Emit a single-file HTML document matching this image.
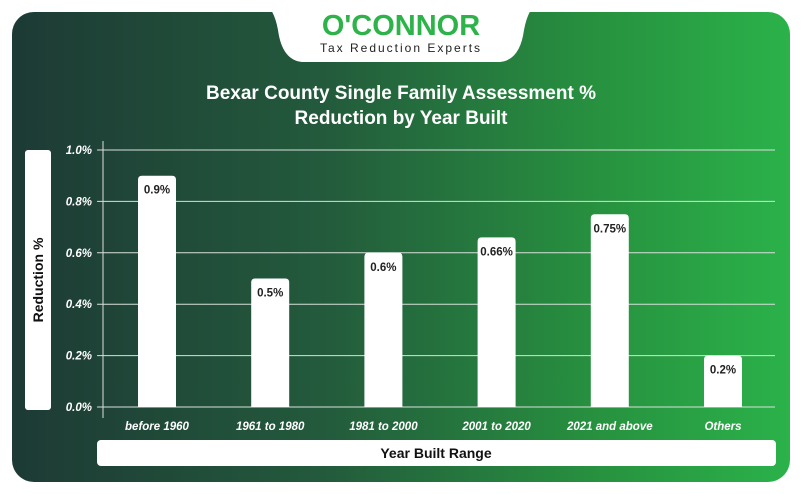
<!DOCTYPE html>
<html><head><meta charset="utf-8"><style>
body{margin:0;width:802px;height:494px;background:#fff;overflow:hidden;font-family:"Liberation Sans",sans-serif}
#card{position:absolute;left:12px;top:12px;width:778px;height:470px;border-radius:22px;background:linear-gradient(90deg,#1d3a35 0%,#235a3c 40%,#27913f 75%,#2bb24a 100%)}
</style></head><body>
<div id="card"></div>
<svg width="802" height="494" style="position:absolute;left:0;top:0">
<path d="M262 0 L540 0 Q528 8 524 30 Q520 60 500 62 L302 62 Q282 60 278 30 Q274 8 262 0Z" fill="#fff"/>
<text x="401" y="35" text-anchor="middle" font-size="29" font-weight="bold" fill="#2db34a">O'CONNOR</text>
<text x="401" y="52" text-anchor="middle" font-size="12" letter-spacing="2" fill="#222">Tax Reduction Experts</text>
<text x="401" y="99" text-anchor="middle" font-size="19" font-weight="bold" fill="#fff">Bexar County Single Family Assessment %</text>
<text x="401" y="124" text-anchor="middle" font-size="19" font-weight="bold" fill="#fff">Reduction by Year Built</text>
<rect x="25" y="150" width="26" height="260" rx="3" fill="#fff"/>
<text transform="translate(43,280) rotate(-90)" text-anchor="middle" font-size="14" font-weight="bold" fill="#111">Reduction %</text>
<rect x="97" y="440" width="679" height="26" rx="4" fill="#fff"/>
<text x="436" y="458" text-anchor="middle" font-size="14" font-weight="bold" fill="#111">Year Built Range</text>
<line x1="103" y1="141" x2="103" y2="418" stroke="#ddd" stroke-width="1"/>
<g id="grid"></g><g id="bars"></g>
</svg>
<script>
const categories=["before 1960","1961 to 1980","1981 to 2000","2001 to 2020","2021 and above","Others"];
const values=[0.9,0.5,0.6,0.66,0.75,0.2];
const valueLabels=["0.9%","0.5%","0.6%","0.66%","0.75%","0.2%"];
const ticks=[0,0.2,0.4,0.6,0.8,1.0];
const tickLabels=["0.0%","0.2%","0.4%","0.6%","0.8%","1.0%"];
const NS="http://www.w3.org/2000/svg";
const y=v=>407-v*257;
const x=i=>157+i*113.2;
const g=document.getElementById('grid'),b=document.getElementById('bars');
function mk(t,a,p){const e=document.createElementNS(NS,t);for(const k in a)e.setAttribute(k,a[k]);p.appendChild(e);return e;}
ticks.forEach((t,i)=>{
 const l=mk('line',{x1:97,x2:775,y1:y(t),y2:y(t),stroke:'#d8e0da','stroke-width':1},g);
 
 
 const tx=mk('text',{x:92,y:y(t)+4,'text-anchor':'end','font-size':11.5,'font-weight':'bold','font-style':'italic',fill:'#fff'},g);
 tx.textContent=tickLabels[i];
 
 
});
values.forEach((v,i)=>{
 const r=mk('path',{d:`M${x(i)-19} ${y(0)} V${y(v)+4} Q${x(i)-19} ${y(v)} ${x(i)-15} ${y(v)} H${x(i)+15} Q${x(i)+19} ${y(v)} ${x(i)+19} ${y(v)+4} V${y(0)}Z`,fill:'#fff'},b);
 
 
 const vl=mk('text',{x:x(i),y:y(v)+18,'text-anchor':'middle','font-size':11.5,'font-weight':'bold',fill:'#222'},b);
 vl.textContent=valueLabels[i];
 
 
 const cl=mk('text',{x:x(i),y:430,'text-anchor':'middle','font-size':11.5,'font-weight':'bold','font-style':'italic',fill:'#fff'},b);
 cl.textContent=categories[i];
 
 
});
</script>
</body></html>
